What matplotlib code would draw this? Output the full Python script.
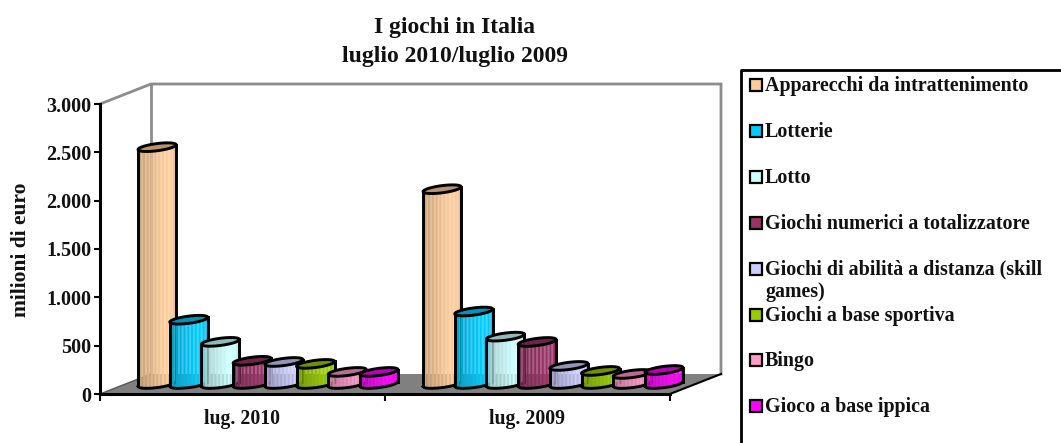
import numpy as np
import matplotlib
matplotlib.use("Agg")
import matplotlib.pyplot as plt
from matplotlib.patches import Polygon, Rectangle

# --- data ---
periods = ["lug. 2010", "lug. 2009"]
games = [
    "Apparecchi da intrattenimento",
    "Lotterie",
    "Lotto",
    "Giochi numerici a totalizzatore",
    "Giochi di abilità a distanza (skill\ngames)",
    "Giochi a base sportiva",
    "Bingo",
    "Gioco a base ippica",
]
values_2010 = [2450, 665, 436, 240, 228, 208, 125, 125]
values_2009 = [2015, 750, 490, 435, 187, 135, 104, 145]
colors = ["#FFCC99", "#00CCFF", "#CCFFFF", "#993366", "#CCCCFF", "#99CC00", "#FF99CC", "#FF00FF"]
y_ticks = [0, 500, 1000, 1500, 2000, 2500, 3000]
y_labels = ["0", "500", "1.000", "1.500", "2.000", "2.500", "3.000"]

W, H = 1061, 443
plt.rcParams["font.family"] = ["Liberation Serif", "DejaVu Serif"]
plt.rcParams["font.weight"] = "bold"
TXT = "#111111"

fig = plt.figure(figsize=(W / 100, H / 100), dpi=100)
# front plane of the fake 3d box, in pixels
ax_l, ax_r, ax_t, ax_b = 100, 670, 104, 394
ax = fig.add_axes([ax_l / W, 1 - ax_b / H, (ax_r - ax_l) / W, (ax_b - ax_t) / H])
ax.set_xlim(0, 2)
ax.set_ylim(0, 3000)
ax.patch.set_alpha(0)

# size of a pixel in data units
px = 2 / (ax_r - ax_l)
py = 3000 / (ax_b - ax_t)
depth_x, depth_y = 51 * px, 20 * py

# --- walls and floor ---
floor = Polygon([(0, 0), (2, 0), (2 + depth_x, depth_y), (depth_x, depth_y)],
                closed=True, fc="#808080", ec="none", zorder=1, clip_on=False)
ax.add_patch(floor)
wall_c = "#8c8c8c"
ax.plot([0, depth_x, 2 + depth_x, 2 + depth_x], [3000, 3000 + depth_y, 3000 + depth_y, depth_y],
        color=wall_c, lw=2, zorder=1, clip_on=False, solid_joinstyle="miter")
ax.plot([depth_x, depth_x], [depth_y, 3000 + depth_y], color=wall_c, lw=2, zorder=1, clip_on=False)
ax.plot([2, 2 + depth_x], [0, depth_y], color="black", lw=1.5, zorder=2, clip_on=False)
ax.plot([0, depth_x], [0, depth_y], color="#555555", lw=1, zorder=2, clip_on=False)


# --- cylinders ---
def shade(col, f):
    rgb = np.array(matplotlib.colors.to_rgb(col))
    return tuple(np.clip(rgb * f, 0, 1))


def cylinder(xc, val, col, z):
    a, b, rise = 19 * px, 3.6 * py, 2.4 * py
    y0 = depth_y / 2
    top = y0 + val
    t = np.linspace(0, 2 * np.pi, 80)
    ex = a * np.cos(t)
    tilt = rise * np.cos(t)
    ey = b * np.sin(t) + tilt
    xs = np.linspace(-a, a, 29)
    # lower edge of an ellipse at each x
    low = -b * np.sqrt(np.clip(1 - (xs / a) ** 2, 0, 1)) + rise * xs / a
    for i in range(len(xs) - 1):
        u = (i + 0.5) / (len(xs) - 1)
        f = 0.78 + 0.22 * min(u / 0.7, 1) - 0.12 * max(u - 0.85, 0) / 0.15
        seg = xs[i:i + 2]
        ax.fill_between(xc + seg, y0 + low[i:i + 2], top + low[i:i + 2], color=shade(col, f),
                        lw=0, antialiased=False, zorder=z, clip_on=False)
    # outline of body
    ax.plot(xc + xs, y0 + low, color="black", lw=2.1, zorder=z + 0.2, clip_on=False)
    ax.plot([xc - a, xc - a], [y0 - rise, top - rise], color="black", lw=2.1, zorder=z + 0.2, clip_on=False)
    ax.plot([xc + a, xc + a], [y0 + rise, top + rise], color="black", lw=2.1, zorder=z + 0.2, clip_on=False)
    cap = Polygon(np.column_stack([xc + ex, top + ey]), closed=True, fc=shade(col, 0.72), ec="black",
                  lw=2.1, zorder=z + 0.3, clip_on=False)
    ax.add_patch(cap)


spacing = 31.7 * px
for g, series in enumerate([values_2010, values_2009]):
    for k, v in enumerate(series):
        xc = g + 0.5 + depth_x / 2 + (k - 3.5) * spacing
        cylinder(xc, v, colors[k], 3 + g * 10 + k)

# --- axes ---
for s in ["top", "right"]:
    ax.spines[s].set_visible(False)
ax.spines["left"].set_linewidth(2.2)
ax.spines["bottom"].set_linewidth(2.2)
ax.spines["left"].set_zorder(2)
ax.spines["bottom"].set_zorder(2)
ax.set_yticks(y_ticks)
ax.set_yticklabels(y_labels, fontsize=14.5, color=TXT)
ax.tick_params(axis="y", length=4, width=1.5, pad=2)
ax.set_xticks([0, 1, 2])
ax.set_xticklabels([])
ax.set_xticks([0.5, 1.5], minor=True)
ax.set_xticklabels(periods, minor=True, fontsize=14.2, color=TXT)
ax.tick_params(axis="x", which="major", length=5, width=1.5)
ax.tick_params(axis="x", which="minor", length=0, pad=11)

fig.text(21 / W, 1 - 250 / H, "milioni di euro", rotation=90, ha="center", va="center",
         fontsize=15.5, color=TXT)
fig.text(455 / W, 1 - 42 / H, "I giochi in Italia\nluglio 2010/luglio 2009", ha="center", va="center",
         fontsize=17, color=TXT, linespacing=1.45)

# --- legend box, open to the right and bottom edge like the original ---
fig.add_artist(plt.Line2D([741 / W, 741 / W, 1], [0, 1 - 70 / H, 1 - 70 / H], color="black", lw=2))
for i, (name, col) in enumerate(zip(games, colors)):
    yy = 85 + i * 45.9
    fig.add_artist(Rectangle((749.5 / W, 1 - (yy + 6) / H), 12 / W, 12 / H, transform=fig.transFigure,
                             fc=col, ec="black", lw=1.6))
    fig.text(765 / W, 1 - (yy - 9) / H, name, ha="left", va="top", fontsize=14.4, color=TXT, linespacing=1.15)

fig.savefig("out.png", dpi=100)
